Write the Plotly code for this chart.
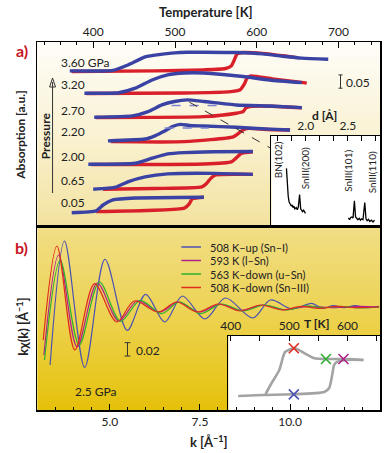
import plotly.graph_objects as go

W, H = 388, 453

# ---------------- Panel a : absorption vs temperature ----------------
pressure_labels = ["3.60 GPa", "3.20", "2.70", "2.20", "2.00", "0.65", "0.05"]
offsets = [0.583, 0.499, 0.409, 0.318, 0.232, 0.138, 0.053]

blue_T = [
    [371.3, 424.1, 443.1, 463.5, 484.7, 499.4, 515.0, 535.3, 574.9, 607.2, 634.7, 655.1, 687.4],
    [389.2, 431.1, 451.5, 471.9, 491.0, 511.4, 535.3, 583.2, 615.6, 655.1],
    [401.2, 447.9, 467.1, 483.9, 499.4, 515.0, 535.3, 574.9, 615.6, 655.1],
    [418.0, 463.5, 475.4, 487.4, 497.0, 506.6, 517.4, 535.3, 574.9, 615.6, 640.7],
    [394.0, 451.5, 471.9, 491.0, 511.4, 547.3, 595.2],
    [400.0, 427.5, 443.1, 463.5, 491.0, 547.3, 595.2],
    [373.7, 403.6, 412.0, 424.0, 451.5, 535.3],
]
blue_mu = [
    [0, 0.002, 0.023, 0.053, 0.063, 0.068, 0.070, 0.070, 0.069, 0.064, 0.054, 0.048, 0.044],
    [0, 0.002, 0.019, 0.050, 0.069, 0.076, 0.076, 0.063, 0.050, 0.040],
    [0, 0.005, 0.021, 0.046, 0.059, 0.065, 0.059, 0.046, 0.042, 0.036],
    [0.002, 0.009, 0.021, 0.039, 0.056, 0.064, 0.060, 0.058, 0.053, 0.046, 0.043],
    [0, 0.004, 0.023, 0.039, 0.044, 0.047, 0.048],
    [0, 0.008, 0.029, 0.047, 0.058, 0.060, 0.056],
    [-0.003, 0.004, 0.026, 0.045, 0.052, 0.055],
]
red_T = [
    [373.7, 475.4, 535.3, 561.7, 568.9, 572.5, 576.0, 583.2, 607.2, 634.7, 649.1],
    [391.6, 511.4, 565.3, 579.3, 584.9, 587.9, 592.7, 619.2, 655.1, 661.1],
    [403.6, 535.3, 574.9, 583.2, 586.8, 591.6, 619.2, 655.1],
    [421.6, 511.4, 571.3, 578.4, 583.2, 589.2, 613.2, 640.7],
    [397.6, 535.3, 568.9, 576.0, 580.8, 595.2],
    [412.0, 475.4, 532.9, 538.9, 543.7, 549.7, 595.2],
    [403.6, 511.4, 517.4, 521.0, 535.3],
]
red_mu = [
    [-0.002, 0, 0.004, 0.009, 0.019, 0.041, 0.064, 0.069, 0.066, 0.056, 0.050],
    [-0.001, 0.001, 0.005, 0.012, 0.035, 0.056, 0.065, 0.054, 0.041, 0.038],
    [-0.001, 0.002, 0.015, 0.021, 0.035, 0.040, 0.041, 0.035],
    [-0.001, -0.001, 0.017, 0.032, 0.043, 0.049, 0.045, 0.043],
    [-0.001, 0.001, 0.009, 0.027, 0.041, 0.047],
    [0, 0.003, 0.009, 0.023, 0.041, 0.054, 0.056],
    [0.001, 0.014, 0.030, 0.049, 0.055],
]
# dashed hump baselines (curve index, T range, level)
hump_idx = [2, 3]
hump_T = [[495.8, 559.3], [487.4, 541.3]]
hump_mu = [0.044, 0.050]
# pointer from 2.70 GPa curve to the inset
pointer_T = [517.4, 616.8]
pointer_y = [0.466, 0.293]
scale_a = 0.05

# inset a: diffraction pattern vs d-spacing
d_vals = [1.771, 1.780, 1.792, 1.802, 1.815, 1.83, 1.84, 1.849, 1.86, 1.87, 1.887, 1.90, 1.912, 1.927,
          1.94, 1.95, 1.962, 1.975, 1.985, 1.997, None,
          2.508, 2.52, 2.535, 2.547, 2.562, 2.578, 2.592, 2.605, 2.62, 2.635, 2.65, 2.663, 2.68,
          2.701, 2.716, 2.729, 2.745, 2.76, 2.78, 2.799, 2.817]
d_int = [0.64, 0.45, 0.33, 0.27, 0.24, 0.22, 0.235, 0.205, 0.22, 0.19, 0.205, 0.18, 0.21, 0.35,
         0.19, 0.18, 0.16, 0.175, 0.15, 0.14, None,
         0.09, 0.07, 0.095, 0.10, 0.09, 0.28, 0.10, 0.09, 0.07, 0.085, 0.065, 0.08, 0.07,
         0.26, 0.08, 0.06, 0.075, 0.05, 0.065, 0.045, 0.065]
peak_labels = ["BN(102)", "SnIII(200)", "SnIII(101)", "SnIII(110)"]

# ---------------- Panel b : EXAFS k*chi(k) ----------------
b_names = ["508 K–up (Sn–I)", "593 K (l–Sn)", "563 K–down (u–Sn)", "508 K–down (Sn–III)"]
b_colors = ["#4a52b4", "#b0208c", "#2eb030", "#e02a1e"]
k_blue = [3.342, 3.742, 4.302, 4.864, 5.481, 5.992, 6.522, 7.011, 7.636, 8.207, 8.967, 9.457, 10.054,
          10.598, 10.9, 11.2, 11.5, 11.8, 12.1, 12.47]
chi_blue = [-0.087, 0.099, -0.0905, 0.0716, -0.035, 0.0188, -0.0225, 0.0165, -0.018, 0.0135, -0.0165,
            0.0105, -0.003, 0.0053, -0.002, 0.002, -0.001, 0.002, -0.001, 0.001]
k_purple = [3.17, 3.58, 4.09, 4.65, 5.245, 5.76, 6.39, 6.90, 7.47, 8.06, 8.65, 9.24, 9.84, 10.5, 11.2,
            11.9, 12.47]
chi_purple = [-0.072, 0.078, -0.06, 0.036, -0.021, 0.009, -0.0075, 0.0075, -0.0075, 0.004, -0.005,
              0.003, -0.004, 0.001, -0.001, 0.001, 0.0]
k_green = [3.187, 3.622, 4.149, 4.709, 5.299, 5.842, 6.432, 6.929, 7.519, 8.098, 8.696, 9.293, 9.891,
           10.4, 10.9, 11.4, 11.9, 12.47]
chi_green = [-0.0795, 0.070, -0.057, 0.0375, -0.0215, 0.010, -0.010, 0.0075, -0.010, 0.0045, -0.006,
             0.003, -0.0045, 0.0015, -0.001, 0.001, -0.0015, 0.0]
k_red = [3.152, 3.533, 4.030, 4.573, 5.190, 5.679, 6.340, 6.856, 7.427, 8.016, 8.614, 9.185, 9.783,
         10.3, 10.8, 11.3, 11.8, 12.47]
chi_red = [-0.0495, 0.0915, -0.0645, 0.035, -0.0225, 0.009, -0.0075, 0.0075, -0.0075, 0.0045, -0.006,
           0.003, -0.0045, 0.001, -0.002, 0.001, -0.001, 0.0]
scale_b = 0.02

# inset b: hysteresis loop vs temperature
loop_T = [412.6, 454.5, 504.9, 560.2, 568.6, 573.7, 577.0, 582.0, 597.1, 627.3,
          None, 627.3, 597.1, 565.3, 543.5, 526.7, 509.9, 493.1, 483.1, 468.0, 459.6]
loop_y = [0.189, 0.203, 0.212, 0.243, 0.297, 0.473, 0.608, 0.649, 0.676, 0.676,
          None, 0.676, 0.689, 0.689, 0.699, 0.766, 0.834, 0.784, 0.541, 0.338, 0.216]
mark_T = [508, 593, 563, 508]
mark_y = [0.212, 0.689, 0.689, 0.834]

# ---------------- helpers for layout placement ----------------
def X(p):
    return p / W

def Y(p):
    return 1 - p / H

FONT = "Lato"
TXT = "#222222"
BLUE = "#3a42a4"
RED = "#d81f2a"

fig = go.Figure()

for i in range(len(offsets)):
    fig.add_trace(go.Scatter(x=red_T[i], y=[offsets[i] + m for m in red_mu[i]], mode="lines",
                             line=dict(color=RED, width=3.4, shape="spline", smoothing=0.5),
                             xaxis="x", yaxis="y", showlegend=False, hoverinfo="skip"))
    fig.add_trace(go.Scatter(x=blue_T[i], y=[offsets[i] + m for m in blue_mu[i]], mode="lines",
                             line=dict(color=BLUE, width=3.4, shape="spline", smoothing=0.5),
                             xaxis="x", yaxis="y", showlegend=False, hoverinfo="skip"))
for j, idx in enumerate(hump_idx):
    fig.add_trace(go.Scatter(x=hump_T[j], y=[offsets[idx] + hump_mu[j]] * 2, mode="lines",
                             line=dict(color="#7b82cf", width=1.5, dash="dash"),
                             xaxis="x", yaxis="y", showlegend=False, hoverinfo="skip"))
fig.add_trace(go.Scatter(x=pointer_T, y=pointer_y, mode="lines",
                         line=dict(color="#333333", width=1, dash="dash"),
                         xaxis="x", yaxis="y", showlegend=False, hoverinfo="skip"))

# inset a
fig.add_trace(go.Scatter(x=d_vals, y=d_int, mode="lines", line=dict(color="black", width=1.3),
                         xaxis="x3", yaxis="y3", showlegend=False, hoverinfo="skip"))

# panel b curves
for kk, cc, col in zip([k_blue, k_purple, k_green, k_red], [chi_blue, chi_purple, chi_green, chi_red], b_colors):
    fig.add_trace(go.Scatter(x=kk, y=cc, mode="lines",
                             line=dict(color=col, width=1.2, shape="spline", smoothing=0.9),
                             xaxis="x2", yaxis="y2", showlegend=False, hoverinfo="skip"))

# inset b
fig.add_trace(go.Scatter(x=loop_T, y=loop_y, mode="lines",
                         line=dict(color="#a3a3a3", width=2.6, shape="spline", smoothing=0.6),
                         xaxis="x4", yaxis="y4", showlegend=False, hoverinfo="skip"))
fig.add_trace(go.Scatter(x=mark_T, y=mark_y, mode="markers",
                         marker=dict(symbol="x-thin", size=10, line=dict(color=b_colors, width=1.6)),
                         xaxis="x4", yaxis="y4", showlegend=False, hoverinfo="skip"))

# ---------------- background gradients ----------------
def lerp(c1, c2, t):
    return tuple(int(round(a + (b - a) * t)) for a, b in zip(c1, c2))

def grad(stops, y0, y1, n):
    out = []
    for s in range(n):
        ya = y0 + (y1 - y0) * s / n
        yb = y0 + (y1 - y0) * (s + 1) / n
        t = (s + 0.5) / n
        for k in range(len(stops) - 1):
            if stops[k][0] <= t <= stops[k + 1][0]:
                tt = (t - stops[k][0]) / (stops[k + 1][0] - stops[k][0])
                c = lerp(stops[k][1], stops[k + 1][1], tt)
                break
        out.append(dict(type="rect", xref="paper", yref="paper", x0=X(30), x1=X(380),
                        y0=Y(yb) - 0.001, y1=Y(ya) + 0.001, fillcolor="rgb(%d,%d,%d)" % c,
                        line=dict(width=0), layer="below"))
    return out

shapes = []
shapes += grad([(0, (254, 253, 248)), (0.5, (250, 242, 212)), (1, (243, 226, 158))], 42, 226, 46)
shapes += grad([(0, (241, 222, 135)), (0.5, (237, 210, 80)), (1, (229, 193, 10))], 226, 410, 46)
shapes.append(dict(type="rect", xref="x3 domain", yref="y3 domain", x0=0, x1=1, y0=0, y1=1,
                   fillcolor="white", line=dict(width=0), layer="below"))
shapes.append(dict(type="rect", xref="x4 domain", yref="y4 domain", x0=0, x1=1, y0=0, y1=1,
                   fillcolor="white", line=dict(width=0), layer="below"))

# scale bars
sa_T, sa_y0 = 702.4, 0.518
shapes.append(dict(type="line", xref="x", yref="y", x0=sa_T, x1=sa_T, y0=sa_y0, y1=sa_y0 + scale_a,
                   line=dict(color="#333", width=1)))
for yy in (sa_y0, sa_y0 + scale_a):
    shapes.append(dict(type="line", xref="x", yref="y", x0=sa_T - 2.5, x1=sa_T + 2.5, y0=yy, y1=yy,
                       line=dict(color="#333", width=1)))
sb_k, sb_y0 = 5.489, -0.0735
shapes.append(dict(type="line", xref="x2", yref="y2", x0=sb_k, x1=sb_k, y0=sb_y0, y1=sb_y0 + scale_b,
                   line=dict(color="#333", width=1)))
for yy in (sb_y0, sb_y0 + scale_b):
    shapes.append(dict(type="line", xref="x2", yref="y2", x0=sb_k - 0.08, x1=sb_k + 0.08, y0=yy, y1=yy,
                       line=dict(color="#333", width=1)))

# pressure arrow
shapes.append(dict(type="line", xref="paper", yref="paper", x0=X(45.5), x1=X(45.5), y0=Y(193), y1=Y(82),
                   line=dict(color="#333", width=1)))
shapes.append(dict(type="path", xref="paper", yref="paper",
                   path="M %f %f L %f %f L %f %f Z" % (X(42.5), Y(87), X(45.5), Y(78), X(48.5), Y(87)),
                   line=dict(color="#333", width=1), fillcolor="rgba(0,0,0,0)"))

# legend samples for panel b
leg_y = [247, 260.5, 274, 287.5]
for yy, col in zip(leg_y, b_colors):
    shapes.append(dict(type="line", xref="paper", yref="paper", x0=X(177), x1=X(197), y0=Y(yy), y1=Y(yy),
                       line=dict(color=col, width=1.5)))

# ---------------- annotations ----------------
ann = []
def txt(x, y, s, size=12, bold=False, color=TXT, xanchor="center", angle=0):
    ann.append(dict(x=X(x), y=Y(y), xref="paper", yref="paper", text=("<b>%s</b>" % s) if bold else s,
                    showarrow=False, xanchor=xanchor, yanchor="middle", textangle=angle,
                    font=dict(family=FONT, size=size, color=color)))

txt(202, 12, "Temperature [K]", 13, True)
txt(14, 50, "a)", 16, True, "#c8141e")
txt(14, 247, "b)", 16, True, "#c8141e")
txt(13, 135, "Absorption [a.u.]", 12, True, angle=-90)
txt(38, 136, "Pressure", 12, True, angle=-90)
label_y = [62.7, 85, 110, 131.7, 156, 180, 202.7]
for s, yy in zip(pressure_labels, label_y):
    txt(52, yy, s, 12, False, xanchor="left")
txt(343, 82.5, "0.05", 12, xanchor="left")
txt(323, 116, "d [Å]", 12, True)
for s, xx, yy in zip(peak_labels, [276, 303.5, 347, 372], [160, 168, 171, 172]):
    txt(xx, yy, s, 10, angle=-90)
for s, yy in zip(b_names, leg_y):
    txt(204, yy, s, 11, xanchor="left")
txt(316, 323, "T [K]", 12, True)
txt(129, 350, "0.02", 12, xanchor="left")
txt(90, 391, "2.5 GPa", 12)
txt(14, 327, "kχ(k) [Å<sup>−1</sup>]", 13, True, angle=-90)
txt(205, 441, "k [Å<sup>−1</sup>]", 13, True)

axis_common = dict(showgrid=False, zeroline=False, showline=True, mirror=True, linecolor="black",
                   tickcolor="black", tickfont=dict(family=FONT, size=12, color=TXT))

fig.update_layout(
    width=W, height=H, margin=dict(l=0, r=0, t=0, b=0),
    paper_bgcolor="white", plot_bgcolor="rgba(0,0,0,0)",
    showlegend=False, shapes=shapes, annotations=ann,
    xaxis=dict(domain=[X(30), X(380)], range=[331.7, 750.9], side="top", anchor="y",
               ticks="inside", ticklen=6, dtick=100, tick0=0, linewidth=1.5,
               minor=dict(ticks="inside", ticklen=3, dtick=20, tick0=0, tickcolor="black"), **axis_common),
    yaxis=dict(domain=[Y(226), Y(42)], range=[0, 0.6917], anchor="x", showticklabels=False, ticks="",
               linewidth=1.5, **axis_common),
    xaxis2=dict(domain=[X(30), X(380)], range=[2.989, 12.5], side="bottom", anchor="y2",
                tickvals=[5, 7.5, 10], ticktext=["5.0", "7.5", "10.0"], ticks="inside", ticklen=6,
                linewidth=1.5,
                minor=dict(ticks="inside", ticklen=3, dtick=0.5, tick0=0, tickcolor="black"), **axis_common),
    yaxis2=dict(domain=[Y(410), Y(226)], range=[-0.1545, 0.1215], anchor="x2", showticklabels=False,
                ticks="", linewidth=1.5, **axis_common),
    xaxis3=dict(domain=[X(269), X(380)], range=[1.593, 2.884], side="top", anchor="y3",
                tickvals=[2.0, 2.5], ticktext=["2.0", "2.5"], ticks="inside", ticklen=5, linewidth=1.2,
                minor=dict(ticks="inside", ticklen=5, dtick=0.5 / 3, tick0=2.0, tickcolor="black"),
                **axis_common),
    yaxis3=dict(domain=[Y(226), Y(136)], range=[0, 1], anchor="x3", showticklabels=False, ticks="",
                linewidth=1.2, **axis_common),
    xaxis4=dict(domain=[X(225), X(380)], range=[395.8, 655.9], side="top", anchor="y4",
                tickvals=[400, 500, 600], ticks="inside", ticklen=5, linewidth=1.2,
                minor=dict(ticks="inside", ticklen=5, dtick=50, tick0=0, tickcolor="black"), **axis_common),
    yaxis4=dict(domain=[Y(410), Y(336)], range=[0, 1], anchor="x4", showticklabels=False, ticks="",
                linewidth=1.2, **axis_common),
)

fig.write_html("out.html", config={"displayModeBar": False, "staticPlot": True},
               post_script="document.body.style.margin='0';document.body.style.overflow='hidden';")
